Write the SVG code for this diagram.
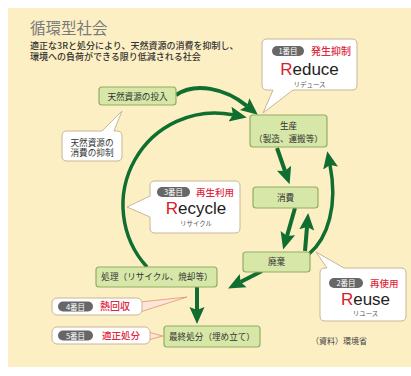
<svg xmlns="http://www.w3.org/2000/svg" width="411" height="376" viewBox="0 0 411 376">
<style>
.jp{font-family:"Noto Sans CJK JP","Noto Sans CJK SC",sans-serif}
.node rect{fill:#d6e7a7;stroke:#93ad63;stroke-width:1.2}
.nt{font-family:"Noto Sans CJK JP",sans-serif;font-size:8.6px;fill:#333;text-anchor:middle}
.co{fill:#fff;stroke:#c9b697;stroke-width:1}
.pill{fill:#676767}
.pt{font-family:"Noto Sans CJK JP",sans-serif;font-size:7.5px;fill:#fff;text-anchor:middle}
.red{font-family:"Noto Sans CJK JP",sans-serif;fill:#e0283c;font-weight:500}
.big{font-family:"Liberation Sans",Arial,sans-serif;font-size:17px;fill:#222;text-anchor:middle}
.kana{font-family:"Noto Sans CJK JP",sans-serif;font-size:6.5px;fill:#555;text-anchor:middle}
.arr{fill:none;stroke:#0f6e30;stroke-width:4}
.ptr{fill:#fde5d8;stroke:#e29468;stroke-width:0.8}
</style>
<defs>
<marker id="ah" markerUnits="userSpaceOnUse" markerWidth="20" markerHeight="18" viewBox="0 -9 20 18" refX="3" refY="0" orient="auto">
<path d="M0,-7.5 L17,0 L0,7.5 L3,0 Z" fill="#0f6e30"/>
</marker>
</defs>
<rect x="8" y="8" width="403" height="359" fill="#fdefc4"/>
<text class="jp" x="30" y="33.5" font-size="15.5" fill="#7a7a7a">循環型社会</text>
<text class="jp" x="30" y="48.5" font-size="9" fill="#333" font-weight="500">適正な3Rと処分により、天然資源の消費を抑制し、</text>
<text class="jp" x="30" y="60" font-size="9" fill="#333" font-weight="500">環境への負荷ができる限り低減される社会</text>

<g id="connectors">
<path class="arr" d="M176,95 C195,82 225,88 247,106" marker-end="url(#ah)"/>
<path class="arr" style="stroke-width:3.5" d="M147,267 A92,92 0 0 1 233,114.8" marker-end="url(#ah)"/>
<path class="arr" d="M277,148 L285,171" marker-end="url(#ah)"/>
<path class="arr" d="M295,208 L287,236" marker-end="url(#ah)"/>
<path class="arr" d="M305,251 L307,227" marker-end="url(#ah)"/>
<path class="arr" style="stroke-width:3.5" d="M309,254 C328,238 338,205 330,165" marker-end="url(#ah)"/>
<path class="arr" d="M262,271 L240.5,282" marker-end="url(#ah)"/>
<path class="arr" d="M197,287 L197,310" marker-end="url(#ah)"/>
</g>

<g id="n-input" class="node">
<rect x="99" y="87" width="77" height="18" rx="3"/>
<text class="nt" x="137.5" y="99.5" font-size="9">天然資源の投入</text>
</g>
<g id="n-production" class="node">
<rect x="250" y="115" width="77" height="32" rx="3"/>
<text class="nt" x="288.5" y="129">生産</text>
<text class="nt" x="288.5" y="142">（製造、運搬等）</text>
</g>
<g id="n-consumption" class="node">
<rect x="253" y="187" width="65" height="21" rx="3"/>
<text class="nt" x="285.5" y="200.5">消費</text>
</g>
<g id="n-disposal" class="node">
<rect x="243" y="252" width="67" height="20" rx="3"/>
<text class="nt" x="276.5" y="265">廃棄</text>
</g>
<g id="n-treatment" class="node">
<rect x="96" y="267" width="121" height="20" rx="3"/>
<text class="nt" x="157" y="280">処理（リサイクル、焼却等）</text>
</g>
<g id="n-final" class="node">
<rect x="164" y="326" width="96" height="21" rx="3"/>
<text class="nt" x="212" y="339.5" font-size="8.9">最終処分（埋め立て）</text>
</g>

<g id="c-suppress">
<path class="co" d="M67,131 H102 L122,111 L114,131 H117 Q122,131 122,136 V156 Q122,161 117,161 H67 Q62,161 62,156 V136 Q62,131 67,131 Z"/>
<text class="nt" x="92" y="145.5" font-size="9">天然資源の</text>
<text class="nt" x="92" y="156" font-size="9">消費の抑制</text>
</g>

<g id="c-reduce">
<path class="co" d="M267,39 H352 Q357,39 357,44 V85 Q357,90 352,90 H293 L263,113 L273,90 H267 Q262,90 262,85 V44 Q262,39 267,39 Z"/>
<rect class="pill" x="272" y="46" width="32" height="10" rx="5"/>
<text class="pt" x="288" y="54">1番目</text>
<text class="red" x="311" y="55" font-size="10">発生抑制</text>
<text class="big" x="309.5" y="74.5"><tspan fill="#d8202c">R</tspan>educe</text>
<text class="kana" x="309.5" y="86.5">リデュース</text>
</g>

<g id="c-recycle">
<path class="co" d="M155,181 H235 Q240,181 240,186 V228 Q240,233 235,233 H155 Q150,233 150,228 V217 L127,207 L150,196 V186 Q150,181 155,181 Z"/>
<rect class="pill" x="157" y="187" width="33" height="10" rx="5"/>
<text class="pt" x="173.5" y="195">3番目</text>
<text class="red" x="196" y="196" font-size="9.5">再生利用</text>
<text class="big" x="196" y="213.5"><tspan fill="#d8202c">R</tspan>ecycle</text>
<text class="kana" x="196" y="225.5">リサイクル</text>
</g>

<g id="c-reuse">
<path class="co" d="M325,268 H327 L316,252 L344,268 H401 Q406,268 406,273 V316 Q406,321 401,321 H325 Q320,321 320,316 V273 Q320,268 325,268 Z"/>
<rect class="pill" x="329" y="278" width="34" height="10" rx="5"/>
<text class="pt" x="346" y="286">2番目</text>
<text class="red" x="370" y="287" font-size="9.5">再使用</text>
<text class="big" x="365.5" y="304.5"><tspan fill="#d8202c">R</tspan>euse</text>
<text class="kana" x="365.5" y="316">リユース</text>
</g>

<g id="c-heat">
<polygon class="ptr" points="140,302 187,297 140,312"/>
<rect class="co" x="52" y="298" width="90" height="17" rx="5"/>
<rect class="pill" x="58" y="301.5" width="35" height="10" rx="5"/>
<text class="pt" x="75.5" y="309.5">4番目</text>
<text class="red" x="100" y="310" font-size="10">熱回収</text>
</g>

<g id="c-proper">
<polygon class="ptr" points="148,332 163,336 148,340"/>
<rect class="co" x="52" y="327" width="98" height="17" rx="5"/>
<rect class="pill" x="58" y="330.5" width="35" height="10" rx="5"/>
<text class="pt" x="75.5" y="338.5">5番目</text>
<text class="red" x="102" y="339" font-size="9.5">適正処分</text>
</g>

<text class="jp" x="311" y="344" font-size="8" fill="#444">（資料）環境省</text>
</svg>
